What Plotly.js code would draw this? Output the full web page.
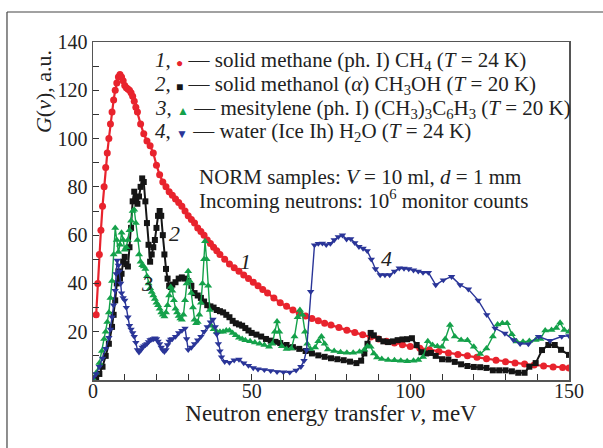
<!DOCTYPE html>
<html>
<head>
<meta charset="utf-8">
<script src="https://cdn.plot.ly/plotly-3.0.1.min.js"></script>
<style>html,body{margin:0;padding:0;background:#fff;}#chart{width:603px;height:448px;}</style>
</head>
<body>
<div id="chart"></div>
<script>
// Series 1: solid methane (ph. I) CH4, T = 24 K  — [energy meV, G]
const methane = [[1,27],[1.5,40],[2,52],[2.5,62],[3,72],[3.5,80],[4,88],[4.5,94],[5,100],[5.5,106],[6,111],[6.5,116],[7,120],[7.5,123],[8,125.5],[8.5,126.5],[9,125.5],[9.5,124],[10,122],[10.5,121],[11,120.5],[11.5,120],[12,119],[12.5,117.5],[13,115.5],[13.5,113],[14,111],[15,106],[16,102],[17,99],[18,97],[19,94],[20,89],[21,85],[22,82],[23,80],[24,78],[25,76.5],[26,75],[27,73.5],[28,72],[29,70],[30,68],[31,66.5],[32,65],[33,63],[34,61.5],[35,60],[36,58],[37,56.5],[38,55],[39,53.5],[40,52],[41.5,50],[43,48],[44.5,46.5],[46,45],[47.5,43.5],[49,42],[50.5,40.5],[52,39],[53.5,37.5],[55,36],[57,34],[59,32],[61,30.5],[63,29],[65,27.6],[67,26.5],[69,25.5],[71,24.5],[73,23.5],[75,22.8],[77.5,21.7],[80,20.6],[82.5,19.7],[85,18.7],[87.5,17.8],[90,17],[92.5,16],[95,15.3],[97.5,14.6],[100,13.9],[103,13.2],[106,12.5],[109,11.8],[112,11.2],[115,10.6],[118,10],[121,9.4],[124,8.8],[127,8.2],[130,7.6],[133,7],[136,6.6],[139,6.2],[142,5.8],[145,5.4],[148,5.2],[150,5]];

// Series 2: solid methanol (alpha) CH3OH, T = 20 K
const methanol = [[0,0],[1,0.8],[2,2.5],[3,5.5],[4,10],[5,15],[6,22],[6.5,27],[7,33],[7.5,40],[8,45],[8.5,42],[9,44],[9.5,49],[10,51],[10.5,48],[11,47],[11.5,55],[12,63],[12.5,74],[13,78],[13.5,75],[14,73],[14.5,76],[15,80],[15.5,83.5],[16,82],[16.5,74],[17,65],[17.5,56],[18,49],[18.5,52],[19,55],[19.5,58],[20,63],[20.5,68],[21,70],[21.5,68],[22,60],[22.5,52],[23,46],[23.5,42],[24,39],[24.5,38.5],[25,39.5],[26,40.5],[27,42],[28,42.5],[29,42],[30,41],[31,39],[32,36],[33,35],[34,34],[35,32.5],[36,31],[37,30.5],[38,30],[39,29],[40,28.5],[41,28],[42,27],[43,26],[44,24.5],[45,23.5],[46,23],[47,22.5],[48,21.5],[49,20.5],[50,19.5],[51.5,18.8],[53,18],[54.5,17],[56,16.3],[57.5,15.8],[59,15.3],[61,14.5],[63,13.6],[65,12.9],[67,12],[69,11],[71,10.2],[73,9.6],[75,9],[77,8.6],[79,8.2],[81,7.6],[83,7],[84.5,8],[85.5,11],[86.5,15],[87.5,19.5],[88.5,18.5],[90,17],[91.5,16],[93,15.7],[94.5,16],[96,16.5],[97.5,16.8],[99,16.9],[100.5,17.3],[102,14.5],[103.5,11.5],[105,11],[106.5,11.2],[108,10],[110,8.6],[112,8.5],[114,7.5],[116,6.5],[118,5.8],[120,5.4],[122,5.3],[124,5],[126,4],[128,4],[130,4],[132,3.6],[134,3],[136,3],[137.5,5.5],[139.5,7],[141.5,12.4],[143.5,14.5],[145.5,14.5],[147.5,12.5],[150,10.4]];

// Series 3: mesitylene (ph. I) (CH3)3C6H3, T = 20 K
const mesitylene = [[0,0.5],[1,3],[2,7],[2.8,12],[3.5,17],[4,20],[4.5,24],[5,28],[5.5,34],[6,41],[6.5,52],[7,63],[7.5,58],[8,53],[8.5,56],[9,61],[9.5,58],[10,54],[10.5,55],[11,58],[11.5,62],[12,66],[12.5,70],[13,70.5],[13.5,65],[14,58],[14.5,52],[15,49],[15.5,47.5],[16,47],[16.5,46],[17,43],[17.5,40],[18,38],[18.5,36.5],[19,35],[19.5,33.5],[20,32],[20.5,31],[21,29.5],[21.5,28],[22,27],[22.5,26.3],[23,28],[23.5,31],[24,35],[24.5,38.5],[25,37],[25.5,33],[26,29.5],[26.5,28],[27,26.5],[27.5,25.5],[28,25],[28.5,27],[29,33],[29.5,40],[30,45],[30.5,41],[31,36],[31.5,30],[32,25],[32.5,23.5],[33,24],[33.5,27],[34,32],[34.5,40],[35,50],[35.3,57.5],[35.8,50],[36.3,39],[36.8,29],[37.3,22.5],[38,21],[39,20],[40,20],[41,20],[42,20.5],[43,20.5],[44,19.5],[45,18.5],[46,17.5],[47,17],[48,16.5],[49.5,16],[51,15.5],[52.5,15],[54,14.5],[55.5,13.8],[56.5,15],[57.3,20],[58,24.2],[58.7,20],[59.5,14],[61,12.8],[62.5,13],[63.5,18],[64.5,26],[65.2,29],[66,27],[66.8,20],[67.5,15],[68.5,12.8],[70,13.5],[71,16],[72,18],[73,15],[74,12.6],[76,12],[78,11.5],[80,11.3],[82,11.3],[84,11.7],[85.5,12.5],[86.5,14],[87.5,13.8],[88.5,11],[89.5,9.3],[91,8.7],[93,8.3],[95,8.2],[97,8],[99,7.8],[101,8],[102.5,8.3],[104,9.5],[105.5,16],[107,14.5],[108.5,14],[110,13.8],[111,17],[112.5,22.8],[114,18],[116,16.6],[118,16.5],[120,13.8],[122,10.8],[124,13],[126,18],[127.5,23],[129,23.5],[130.5,23.5],[132,19],[133.5,15.9],[135.5,15.8],[137.5,16.2],[139.5,16.6],[141,17],[142.5,20.5],[144.5,20.7],[146,21.5],[147.2,23.7],[148.5,20.7],[150,20]];

// Series 4: water (Ice Ih) H2O, T = 24 K
const water = [[0,1],[1,2.5],[2,5.5],[3,9],[4,13],[5,17.5],[5.5,21],[6,26],[6.5,31],[7,37],[7.3,44],[7.6,49.5],[8,47.5],[8.3,45],[8.7,40],[9,36],[9.5,34],[10,33],[10.5,30],[11,26],[11.5,22.5],[12,21],[12.5,19.5],[13,18],[13.5,15.5],[14,12.5],[14.5,11.5],[15,12.3],[15.5,13.5],[16,14],[16.5,14.5],[17,15],[17.5,15.8],[18,16.6],[18.5,16.8],[19,17],[19.5,17.3],[20,17],[20.5,16],[21,15],[21.5,13.5],[22,12.3],[22.5,11.7],[23,12.5],[23.5,14.5],[24,16],[24.5,16.8],[25,17],[26,18],[27,19.5],[28,20.5],[29,21.4],[29.5,17],[30,12.5],[31,13.5],[32,15],[33,16.5],[34,18],[35,20],[36,22],[37,24],[37.8,25.1],[38.5,22],[39,19],[39.5,15],[40,12],[40.5,9.5],[41.5,7.6],[43,7.2],[44.5,8.2],[46,8.5],[47.5,7],[49,6],[50.5,5],[52,4.5],[54,4.2],[56,3.8],[58,3.4],[60,3.3],[62,3.2],[64,4],[65.5,5.5],[66.5,8],[67.3,12.4],[68.6,36.6],[69.8,55.9],[71,56.5],[72.3,56.6],[73.5,56],[74.8,56.5],[76,58],[77.3,59.3],[78.6,60],[79.9,58.3],[81.2,58.5],[82.5,56.8],[83.8,55.2],[85.1,54.5],[86.4,53.5],[87.7,50],[89,46],[90.5,43.5],[92,43.5],[93.5,43.5],[95,45],[96.5,46.3],[98,46.2],[99.5,46],[101,45.5],[102.5,45],[104,44.5],[105.7,44.5],[108,39.4],[110.4,41.4],[113,42.8],[115.7,39.4],[118.3,37.6],[121.4,33],[124.1,27],[126.7,21.4],[129.8,19.3],[132.5,16.6],[134.6,15],[137.2,14.9],[140.4,18],[144,16.3],[147.7,18],[150,18.3]];

const seriesNames = ["solid methane (ph. I) CH<sub>4</sub> (<i>T</i> = 24 K)",
  "solid methanol (<i>α</i>) CH<sub>3</sub>OH (<i>T</i> = 20 K)",
  "mesitylene (ph. I) (CH<sub>3</sub>)<sub>3</sub>C<sub>6</sub>H<sub>3</sub> (<i>T</i> = 20 K)",
  "water (Ice Ih) H<sub>2</sub>O (<i>T</i> = 24 K)"];
const xTicks = [0, 50, 100, 150];
const yTicks = [20, 40, 60, 80, 100, 120, 140];

const RED = "#e8232d", BLACK = "#151515", GREEN = "#14a14a", BLUE = "#2a3598";
const FONT = "Liberation Serif, Times New Roman, serif";
const TXT = "#222";

function tr(data, color, symbol, size, lw) {
  return {
    x: data.map(p => p[0]), y: data.map(p => p[1]),
    type: "scatter", mode: "lines+markers",
    line: {color: color, width: lw},
    marker: {color: color, symbol: symbol, size: size},
    showlegend: false, hoverinfo: "skip"
  };
}

const traces = [
  tr(methane, RED, "circle", 7, 2.2),
  tr(methanol, BLACK, "square", 6, 2),
  tr(mesitylene, GREEN, "triangle-up", 7, 1.4),
  tr(water, BLUE, "triangle-down", 6.5, 1.4)
];

const symbols = ["●", "■", "▲", "▼"];
const colors = [RED, BLACK, GREEN, BLUE];
const rowY = [0.944, 0.873, 0.802, 0.734];

const annotations = [];
for (let i = 0; i < 4; i++) {
  annotations.push({
    xref: "paper", yref: "paper", x: 0.126, y: rowY[i], xanchor: "left", yanchor: "middle",
    showarrow: false, align: "left",
    text: "<i>" + (i + 1) + "</i>, <span style='color:" + colors[i] + ";font-size:12px'>" + symbols[i] + "</span> — " + seriesNames[i],
    font: {family: FONT, size: 21, color: TXT}
  });
}
annotations.push({xref: "paper", yref: "paper", x: 0.219, y: 0.600, xanchor: "left", yanchor: "middle", showarrow: false,
  text: "NORM samples: <i>V</i> = 10 ml, <i>d</i> = 1 mm", font: {family: FONT, size: 21, color: TXT}});
annotations.push({xref: "paper", yref: "paper", x: 0.219, y: 0.535, xanchor: "left", yanchor: "middle", showarrow: false,
  text: "Incoming neutrons: 10<sup>6</sup> monitor counts", font: {family: FONT, size: 21, color: TXT}});
// curve labels
const curveLabels = [["1", 47.9, 49], ["2", 25.8, 60.5], ["3", 17, 40], ["4", 92.5, 50.5]];
curveLabels.forEach(c => annotations.push({x: c[1], y: c[2], xref: "x", yref: "y", showarrow: false,
  text: "<i>" + c[0] + "</i>", font: {family: FONT, size: 22, color: TXT}}));
// y title
annotations.push({xref: "paper", yref: "paper", x: -0.105, y: 0.852, textangle: -90, showarrow: false,
  xanchor: "center", yanchor: "middle",
  text: "<i>G</i>(<i>ν</i>), a.u.", font: {family: FONT, size: 22, color: TXT}});

const layout = {
  width: 603, height: 448,
  margin: {l: 93, r: 34, t: 42, b: 68},
  paper_bgcolor: "#fff", plot_bgcolor: "#fff",
  font: {family: FONT, size: 20, color: TXT},
  xaxis: {
    range: [0, 150], tickvals: xTicks, ticktext: xTicks.map(String),
    ticks: "inside", ticklen: 6, tickcolor: "#333", showgrid: false, zeroline: false,
    showline: true, linecolor: "#555", linewidth: 1.5, mirror: true,
    minor: {tickvals: [10,20,30,40,60,70,80,90,110,120,130,140], ticks: "inside", ticklen: 6, tickcolor: "#333"},
    tickfont: {family: FONT, size: 20, color: TXT},
    ticklabelstandoff: -8,
    title: {text: "Neutron energy transfer <i>ν</i>, meV", font: {family: FONT, size: 23, color: TXT}, standoff: 0},
    automargin: false
  },
  yaxis: {
    range: [0, 140], tickvals: yTicks, ticktext: yTicks.map(String),
    ticks: "inside", ticklen: 6, tickcolor: "#333", showgrid: false, zeroline: false,
    showline: true, linecolor: "#555", linewidth: 1.5, mirror: true,
    minor: {tickvals: [10,30,50,70,90,110,130], ticks: "inside", ticklen: 6, tickcolor: "#333"},
    tickfont: {family: FONT, size: 20, color: TXT},
    automargin: false
  },
  annotations: annotations,
  shapes: [
    {type: "line", xref: "paper", yref: "paper", x0: -0.1807, x1: -0.1807, y0: -0.3, y1: 1.0888, line: {color: "#444", width: 1.2}},
    {type: "line", xref: "paper", yref: "paper", x0: -0.1807, x1: 1.2, y0: 1.0888, y1: 1.0888, line: {color: "#444", width: 1.2}}
  ]
};

Plotly.newPlot("chart", traces, layout, {staticPlot: true, displayModeBar: false});
</script>
</body>
</html>
